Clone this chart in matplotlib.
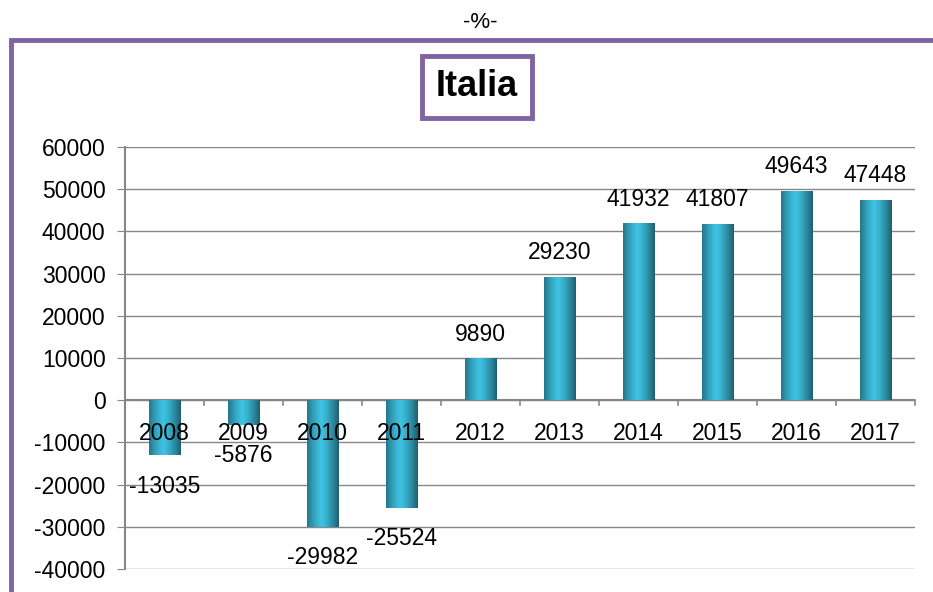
import numpy as np
import matplotlib.pyplot as plt
from matplotlib.patches import Rectangle

years = ['2008', '2009', '2010', '2011', '2012', '2013', '2014', '2015', '2016', '2017']
values = [-13035, -5876, -29982, -25524, 9890, 29230, 41932, 41807, 49643, 47448]
yticks = [-40000, -30000, -20000, -10000, 0, 10000, 20000, 30000, 40000, 50000, 60000]

purple = '#8064A2'
grid_col = '#868686'

plt.rcParams['font.family'] = ['Liberation Sans', 'DejaVu Sans']

fig = plt.figure(figsize=(9.33, 5.92), dpi=100)

# purple frame round the chart
fig.add_artist(Rectangle((11 / 933, -0.05), 1.0, 1 - 40 / 592 + 0.05,
                         transform=fig.transFigure, fill=False,
                         edgecolor=purple, linewidth=3.5))

fig.text(480 / 933, 1 - 22 / 592, '-%-', ha='center', va='center', fontsize=16)
fig.text(477 / 933, 1 - 87 / 592, 'Italia', ha='center', va='center',
         fontsize=26, fontweight='bold',
         bbox=dict(boxstyle='square,pad=0.38', facecolor='white',
                   edgecolor=purple, linewidth=3.5))

ax = fig.add_axes([125 / 933, 1 - 569 / 592, (915 - 125) / 933, (569 - 147) / 592])
x = np.arange(len(years))
bars = ax.bar(x, values, width=0.4, color='#2FB0D0', zorder=3)

# horizontal shading on each bar for the glossy look
grad = np.linspace(0, 1, 64)
shade = 1 - 0.55 * np.abs(grad - 0.45) ** 1.3 * 2
img = np.zeros((1, 64, 3))
base = np.array([0x3E, 0xC2, 0xE2]) / 255
for i in range(64):
    img[0, i] = base * shade[i]
for b in bars:
    x0, y0 = b.get_x(), b.get_y()
    w, h = b.get_width(), b.get_height()
    im = ax.imshow(img, extent=(x0, x0 + w, y0, y0 + h), aspect='auto', zorder=4)
    im.set_clip_path(b)

for xi, v in zip(x, values):
    if v >= 0:
        ax.annotate(str(v), (xi, v), xytext=(0, 9), textcoords='offset points',
                    ha='center', va='bottom', fontsize=16.5, zorder=6)
    else:
        ax.annotate(str(v), (xi, v), xytext=(0, -14), textcoords='offset points',
                    ha='center', va='top', fontsize=16.5, zorder=6)

# year labels just under the zero line
for xi, yr in zip(x, years):
    ax.text(xi, -8000, yr, ha='center', va='center', fontsize=16.5, zorder=6)

ax.set_xlim(-0.5, len(years) - 0.5)
ax.set_ylim(-40000, 60000)
ax.set_yticks(yticks)
ax.set_yticklabels([str(t) for t in yticks], fontsize=16.5)
ax.set_xticks([])
ax.yaxis.grid(True, color=grid_col, linewidth=1, zorder=0)
ax.set_axisbelow(True)
ax.tick_params(axis='y', length=6, color=grid_col, pad=8)

for s in ['top', 'right', 'bottom']:
    ax.spines[s].set_visible(False)
ax.spines['left'].set_color(grid_col)
ax.spines['left'].set_linewidth(1.5)

# zero axis with category tick marks
ax.axhline(0, color=grid_col, linewidth=1.5, zorder=2)
for b in np.arange(0.5, len(years), 1.0):
    ax.plot([b, b], [0, -1200], color=grid_col, linewidth=1.2, zorder=2, clip_on=False)

fig.savefig('out.png', dpi=100)
